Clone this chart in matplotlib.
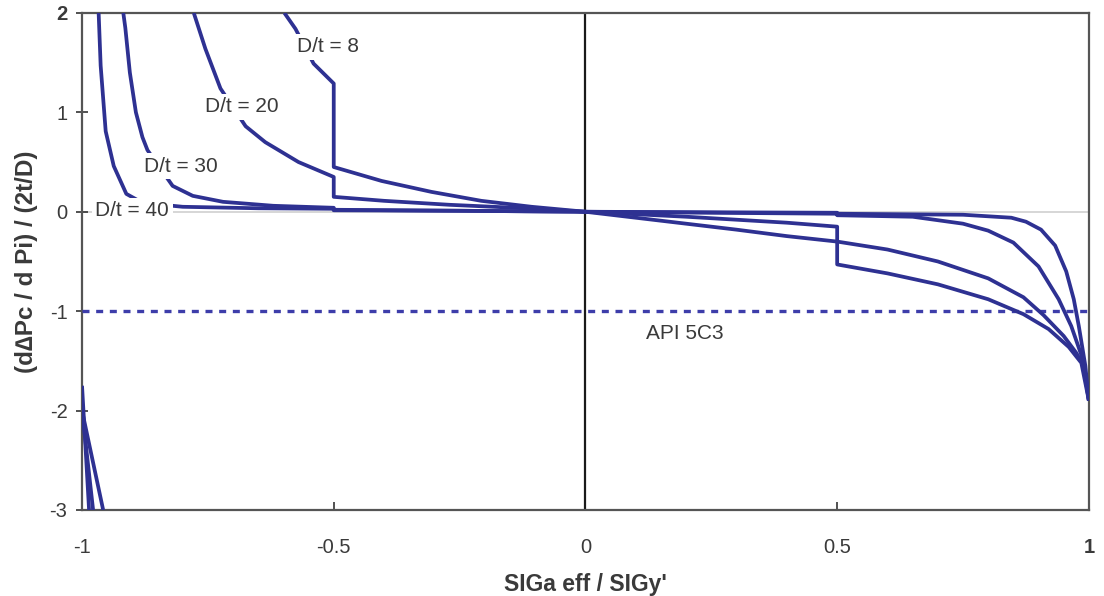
import numpy as np
import matplotlib
matplotlib.use("Agg")
import matplotlib.pyplot as plt

plt.rcParams['font.family'] = ['Liberation Sans', 'DejaVu Sans']

nan = np.nan

# Normalised effective axial stress (x) and normalised collapse sensitivity (y)
# NaN separates the short branch near x = -1 from the main branch.
dt8_x = [-0.598, -0.576, -0.540, -0.500, -0.500, -0.405, -0.306, -0.207, -0.107, 0.0,
         0.10, 0.20, 0.30, 0.40, 0.500, 0.500, 0.60, 0.70, 0.80, 0.87, 0.92, 0.96, 0.985, 1.0]
dt8_y = [2.00, 1.84, 1.49, 1.29, 0.45, 0.31, 0.20, 0.11, 0.05, 0.0,
         -0.025, -0.05, -0.08, -0.11, -0.15, -0.53, -0.62, -0.73, -0.88, -1.03, -1.18, -1.36, -1.52, -1.90]

dt20_x = [-1.0, -0.986, nan,
          -0.778, -0.755, -0.725, -0.675, -0.636, -0.570, -0.500, -0.500, -0.40, -0.27, -0.14, 0.0,
          0.10, 0.20, 0.30, 0.40, 0.50, 0.60, 0.70, 0.80, 0.87, 0.91, 0.95, 0.975, 0.99, 1.0]
dt20_y = [-1.75, -3.0, nan,
          2.00, 1.64, 1.24, 0.86, 0.70, 0.50, 0.35, 0.15, 0.11, 0.07, 0.04, 0.0,
          -0.06, -0.12, -0.18, -0.245, -0.30, -0.38, -0.50, -0.67, -0.86, -1.04, -1.25, -1.42, -1.55, -1.90]

dt30_x = [-1.0, -0.978, nan,
          -0.918, -0.914, -0.905, -0.893, -0.880, -0.870, -0.820, -0.780, -0.720, -0.620, -0.500, -0.500,
          -0.25, 0.0, 0.25, 0.50, 0.50, 0.65, 0.75, 0.80, 0.85, 0.90, 0.94, 0.965, 0.987, 1.0]
dt30_y = [-2.0, -3.0, nan,
          2.00, 1.85, 1.40, 1.00, 0.75, 0.62, 0.26, 0.16, 0.10, 0.06, 0.04, 0.02,
          0.01, 0.0, -0.01, -0.02, -0.035, -0.05, -0.12, -0.19, -0.31, -0.55, -0.88, -1.15, -1.47, -1.90]

dt40_x = [-1.0, -0.958, nan,
          -0.967, -0.963, -0.953, -0.937, -0.912, -0.880, -0.800, -0.650, -0.500, -0.500,
          -0.25, 0.0, 0.25, 0.50, 0.50, 0.75, 0.846, 0.875, 0.905, 0.933, 0.955, 0.970, 0.980, 0.993, 1.0]
dt40_y = [-2.0, -3.0, nan,
          2.00, 1.47, 0.81, 0.46, 0.18, 0.09, 0.05, 0.035, 0.03, 0.015,
          0.01, 0.0, -0.005, -0.01, -0.02, -0.03, -0.06, -0.10, -0.18, -0.34, -0.60, -0.88, -1.15, -1.55, -1.90]

api_level = -1.0

curve_labels = ["D/t = 8", "D/t = 20", "D/t = 30", "D/t = 40"]
label_xy = [(-0.511, 1.66), (-0.683, 1.055), (-0.804, 0.46), (-0.90, 0.01)]

x_ticks = [-1, -0.5, 0, 0.5, 1]
x_tick_labels = ["-1", "-0.5", "0", "0.5", "1"]
y_ticks = [-3, -2, -1, 0, 1, 2]
y_tick_labels = ["-3", "-2", "-1", "0", "1", "2"]

curve_color = "#2e3192"
api_color = "#3d3daa"
text_color = "#3a3a3a"

fig = plt.figure(figsize=(11.04, 5.96), dpi=100)
ax = fig.add_axes([0.0743, 0.1443, 0.912, 0.834])
ax.set_xlim(-1, 1)
ax.set_ylim(-3, 2)

# reference lines
ax.axhline(0, color="#cfcfcf", lw=1.2, zorder=1)
ax.axvline(0, color="#1a1a1a", lw=1.6, zorder=2)

ax.plot([-1, 1], [api_level, api_level], color=api_color, lw=2.4,
        linestyle=(0, (2.1, 2.0)), zorder=3)

for xs, ys in [(dt8_x, dt8_y), (dt20_x, dt20_y), (dt30_x, dt30_y), (dt40_x, dt40_y)]:
    ax.plot(xs, ys, color=curve_color, lw=2.7, solid_joinstyle="round",
            solid_capstyle="butt", zorder=4)

for txt, (lx, ly) in zip(curve_labels, label_xy):
    ax.text(lx, ly, txt, fontsize=15, color=text_color, ha="center", va="center",
            zorder=6, bbox=dict(facecolor="white", edgecolor="none", pad=2.5))

ax.text(0.197, -1.22, "API 5C3", fontsize=15, color=text_color,
        ha="center", va="center", zorder=6)

ax.set_xticks(x_ticks)
ax.set_xticklabels(x_tick_labels)
ax.set_yticks(y_ticks)
ax.set_yticklabels(y_tick_labels)
ax.tick_params(axis="x", direction="in", length=6, width=1.2, colors="#333333",
               labelsize=14.5, pad=20, labelcolor=text_color)
ax.tick_params(axis="y", direction="inout", length=9, width=1.2, colors="#333333",
               labelsize=14.5, pad=6, labelcolor=text_color)
ax.get_xticklabels()[-1].set_fontweight("bold")
ax.get_yticklabels()[-1].set_fontweight("bold")

for sp in ax.spines.values():
    sp.set_color("#555555")
    sp.set_linewidth(1.6)

ax.set_xlabel("SIGa eff / SIGy'", fontsize=16.5, fontweight="bold",
              color=text_color, labelpad=12)
ax.set_ylabel("(d\u2206Pc / d Pi) / (2t/D)", fontsize=17.5, fontweight="bold",
              color=text_color, labelpad=8)

fig.savefig("out.png", dpi=100)
